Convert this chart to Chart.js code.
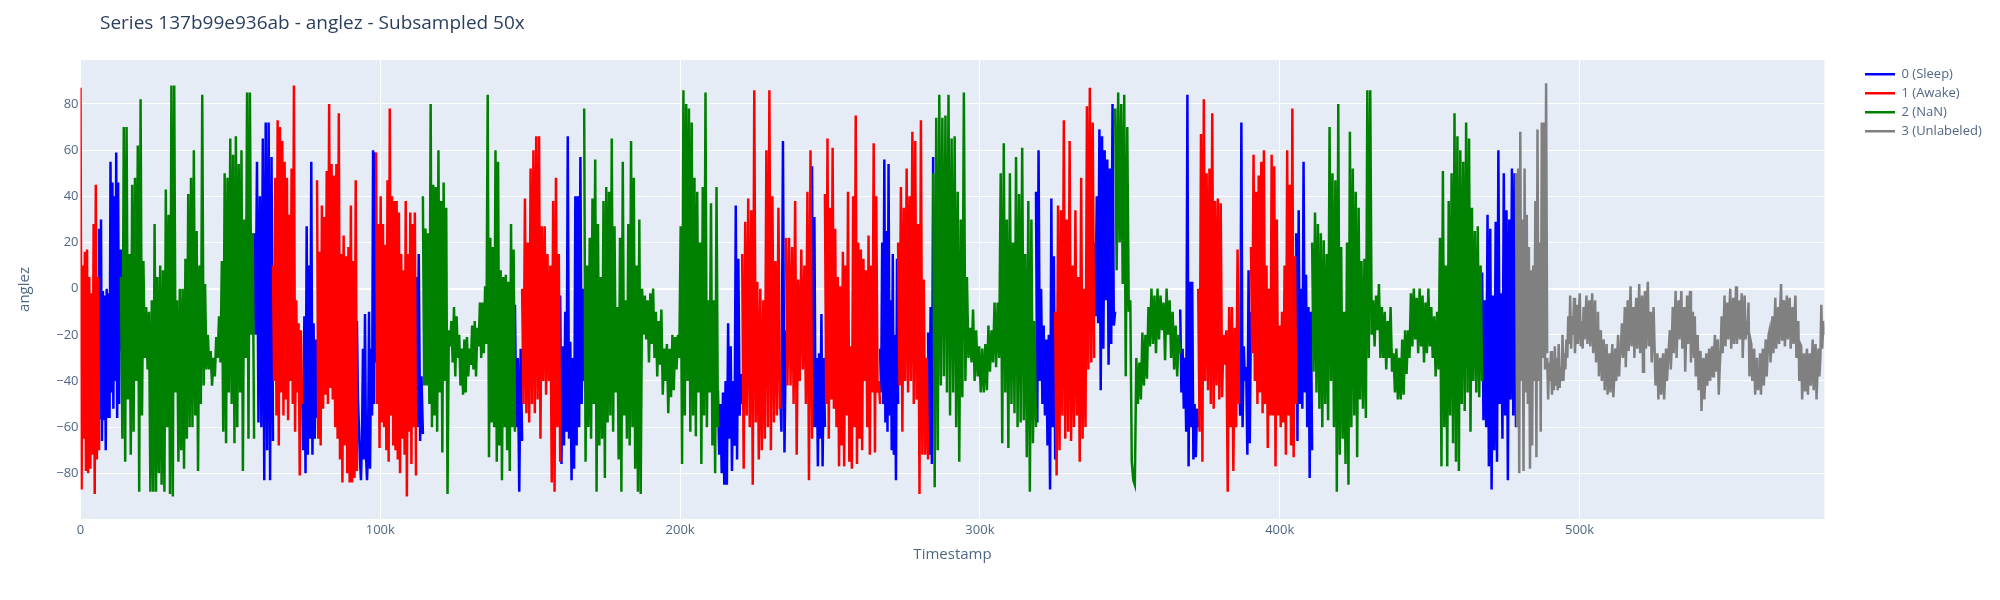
<!DOCTYPE html>
<html>
<head>
<meta charset="utf-8">
<style>
  html, body { margin: 0; padding: 0; background: #fff; }
  canvas { display: block; }
</style>
<script src="https://cdn.jsdelivr.net/npm/chart.js@4/dist/chart.umd.min.js"></script>
</head>
<body>
<canvas id="myChart" width="2000" height="600"></canvas>
<script>
// label names and colours
const labelNames = ['0 (Sleep)', '1 (Awake)', '2 (NaN)', '3 (Unlabeled)'];
const labelColors = ['#0000ff', '#ff0000', '#008000', '#808080'];

const xTicks = [0, 100000, 200000, 300000, 400000, 500000];
const yTicks = [-80, -60, -40, -20, 0, 20, 40, 60, 80];

// label of each run, and where it starts and ends (timestamp)
const segLabel = [1,0,2,0,1,0,1,0,1,0,2,0,1,0,2,0,1,0,1,0,1,0,1,0,2,0,1,0,2,0,1,0,1,0,2,0,3,3];
const segStart = [0,6200,13500,57900,64200,73900,78900,92200,98600,111900,114200,144900,147300,160000,168000,212600,220700,233300,235300,244000,248300,266700,272700,282700,284400,318700,325100,338100,345100,366800,372800,386400,390400,405500,410800,467500,478800,489200];
const segEnd = [6200,13500,57900,64200,73900,78900,92200,98600,111900,114200,144900,147300,160000,168000,212600,220700,233300,235300,244000,248300,266700,272700,282700,284400,318700,325100,338100,345100,366800,372800,386400,390400,405500,410800,467500,478800,489200,581600];

// anglez, run by run
const segValues = [
  [87,-87,10,-65,16,-79,17,-80,5,-78,-2,-72,28,-89,45,-74,5,-70],
  [26,-56,30,-66,-1,-57,-3,-70,0,-56,-2,-56,55,-45,46,-52,40,-40,59,-56,46,-50,17,-27],
  [5,-65,70,-75,70,-48,15,-72,45,-62,48,-40,62,-88,82,-55,12,-30,-8,-35,-10,-88,-5,-88,28,-88,5,-80,10,-85,8,-88,43,-60,32,-89,88,-90,88,-45,-5,-75,0,-70,0,-78,13,-65,41,-60,48,-60,60,-55,25,-79,10,-50,84,-42,2,-35,-20,-35,-27,-42,-30,-38,-21,-30,-12,-32,12,-62,50,-67,48,-45,65,-50,58,-67,66,-60,54,-45,60,-79,30,-30,85,-65,85,-20,24,-65],
  [24,-20,55,-58,40,-60,65,-83,72,-70,72,-83,57,-66],
  [10,-40,48,-55,73,-68,70,-45,64,-55,55,-48,48,-57,32,-40,52,-50,88,-62,-5,-45,-15,-81,-18,-50],
  [-40,-70,-12,-80,27,-72,10,-65,55,-72,-15,-65,-22,-56],
  [47,-65,16,-68,36,-52,31,-46,51,-50,80,-43,54,-48,49,-60,54,-65,76,-74,15,-84,23,-68,14,-80,18,-84,36,-84,12,-82,47,-79],
  [-14,-48,-60,-74,-83,-66,-26,-74,-11,-72,-83,-70,-10,-78,-26,-55,60,-50,59,-32],
  [59,-50,28,-69,40,-58,28,-60,19,-70,47,-75,78,-55,40,-68,38,-70,38,-74,33,-80,15,-65,8,-72,38,-90,15,-62,33,-76,28,-60,33,-81],
  [5,-60,15,-66,-38,-63],
  [40,-42,26,-42,24,-50,80,-60,45,-55,44,-62,60,-45,38,-71,46,-40,35,-89,-18,-25,-14,-32,-8,-38,-12,-30,-20,-42,-26,-46,-22,-45,-21,-38,-26,-33,-16,-35,-14,-38,-17,-25,-6,-30,-6,-28,1,-24,84,-73,22,-58,18,-60,60,-75,55,-68,8,-83,5,-60,6,-70,3,-79,28,-60,17,-62],
  [-7,-60,-30,-88,-26,-66],
  [0,-50,39,-54,20,-58,52,-50,60,-54,66,-48,66,-65,27,-40,27,-46,15,-40,10,-84,38,-88,48,-60,15,-75],
  [-3,-76,-25,-68,-10,-62,66,-65,-23,-83,-30,-78,40,-68,40,-60,57,-50,0,-40],
  [78,-75,10,-60,22,-65,39,-50,56,-88,28,-68,5,-65,38,-82,44,-58,42,-55,65,-62,27,-45,-8,-74,22,-88,55,-55,-5,-65,28,-68,64,-60,48,-78,10,-88,30,-89,0,-20,-3,-22,-5,-32,-2,-24,0,-30,-10,-38,-14,-33,-9,-46,-26,-40,-24,-54,-26,-47,-20,-44,-21,-35,-20,-30,27,-76,86,-55,80,-40,78,-62,72,-55,48,-64,42,-45,20,-76,44,-55,85,-60,-5,-45,37,-68,-5,-80,44,-60],
  [-44,-72,-50,-80,-45,-85,-40,-85,-15,-65,-25,-79,-40,-68,36,-74,13,-55,-37,-50],
  [15,-78,29,-55,39,-60,34,-85,86,-58,3,-74,0,-70,-5,-65,60,-60,86,-70,40,-58,12,-55,35,-52],
  [-43,-62,64,-71,-18],
  [22,-42,22,-42,18,-50,38,-72,4,-40,17,-35,10,-50,42,-83,60,-65],
  [53,-60,31,-60,-30,-77,-28,-65,-11,-77,-30,-60],
  [41,-50,65,-65,35,-48,61,-52,26,-60,5,-77,1,-68,16,-77,10,-55,42,-75,-25,-78,40,-60,75,-76,20,-65,17,-70,13,-40,8,-60,23,-72,10,-45,63,-71,40,-45,-40,-50],
  [-26,-45,20,-50,56,-58,25,-62,54,-55,-5,-70,15,-72,-20,-83,13,-50],
  [20,-42,44,-62,35,-40,52,-45,40,-40,68,-50,64,-48,28,-89,73,-72,4,-72,-30,-74],
  [-19,-72,-8,-76,57],
  [50,-86,74,-70,84,-42,74,-38,75,-45,84,-55,65,-45,66,-60,42,-75,30,-47,85,-40,5,-30,-17,-32,-9,-40,-18,-38,-25,-45,-26,-45,-24,-44,-16,-36,-18,-32,-6,-34,-6,-30,50,-67,63,-45,30,-69,50,-50,20,-54,57,-60,41,-58,61,-57,15,-73,38,-88,30,-67,-14,-60],
  [42,-58,60,-40,0,-50,-16,-55,-22,-68,-20,-87,39,-60,14,-74],
  [-10,-81,36,-70,34,-55,73,-65,30,-62,64,-66,10,-60,34,-55,5,-75,48,-65,0,-60,79,-35,87,-32,72,-30],
  [20,-12,40,-15,69,-44,66,-26,60,-5,56,-33,52,-24,80,-16,-10],
  [78,8,85,20,80,2,84,-38,70,-10,-5,-75,-83,-85,-30,-50,-32,-48,-19,-42,-20,-39,-8,-25,0,-24,-3,-28,0,-22,-3,-18,-6,-31,0,-20,-5,-30,-10,-35,-16,-38,-20,-28],
  [-9,-45,-26,-52,-30,-62,84,-77,3,-60,3,-74,-50,-73,-52,-60],
  [0,-62,67,-75,82,-40,50,-44,52,-50,76,-52,38,-42,39,-48,37,-47,-20,-33,-18,-88,-8,-60,-8,-79,-17,-60,17,-50],
  [-35,-55,72,-60,-25,-40,-34,-72,8,-67,-10],
  [18,-28,58,-40,42,-50,49,-45,55,-54,60,-50,10,-69,0,-55,58,-55,53,-77,30,-55,-16,-60,-10,-58,10,-72,60,-55,45,-68,78,-73,14,-50],
  [24,-66,34,-50,0,-52,55,-45,6,-60,-8,-82,-10,-70],
  [20,-36,33,-45,28,-52,24,-60,21,-50,15,-57,70,-40,50,-60,47,-88,80,-72,18,-65,-10,-76,20,-85,68,-60,52,-55,42,-73,35,-48,12,-52,13,-56,86,-30,86,-20,-5,-25,-3,-18,2,-30,-8,-30,-10,-35,-14,-30,-8,-36,-28,-45,-26,-48,-30,-48,-22,-46,-18,-37,-18,-30,-2,-25,0,-22,-4,-28,0,-25,-3,-32,-6,-28,0,-25,-8,-30,-12,-38,-10,-35,22,-77,51,-60,10,-77,38,-55,50,-67,76,-75,66,-79,60,-50,55,-53,72,-45,65,-62,35,-40,25,-45,27,-47,10,-40],
  [7,-57,-5,-60,32,-77,26,-87,-3,-70,29,-75,60,-50,-2,-65,50,-55,34,-83,30,-48,52,-55,50,-60],
  [50,-60,52,-80,68,-40,30,-79,52,-45,32,-50,18,-78,8,-68,10,-40,38,-73,69,-40,20,-62,72,-30,72,-35,89,-28],
  [-30,-48,-32,-40,-27,-46,-36,-44,-25,-42,-30,-44,-24,-43,-34,-40,-20,-40,-28,-35,-22,-30,
   -12,-24,-3,-26,-12,-20,-4,-28,-16,-7,-24,-10,-2,-25,-14,-26,-8,-22,-12,-3,-24,-14,-5,-25,-11,-2,-28,-18,
   -5,-32,-18,-10,-38,-24,-18,-40,-28,-22,-44,-32,-24,-46,-36,-28,-45,-34,-24,-47,-38,-26,-40,-30,-20,-38,-28,-24,
   -15,-30,-22,-8,-34,-18,-5,-27,-12,1,-25,-14,-8,-30,-12,-4,-26,-16,2,-28,-10,-3,-36,-14,-1,-26,-10,3,-25,-18,-10,-32,-20,-8,
   -25,-42,-32,-28,-48,-36,-30,-46,-34,-28,-48,-38,-26,-40,-32,-25,
   -18,-35,-24,-8,-28,-16,-1,-30,-14,-5,-22,-12,-1,-26,-18,-8,-36,-20,-3,-24,-10,-1,-32,-14,-10,-30,
   -12,-38,-24,-20,-44,-30,-27,-53,-36,-30,-48,-38,-28,-42,-34,-26,-40,-32,-25,-38,-30,-20,-36,-28,-22,-46,-34,-26,
   -12,-28,-18,-3,-25,-12,-6,-22,-10,0,-26,-16,-4,-24,-14,1,-24,-10,-5,-22,-12,-2,-30,-16,-3,-22,-14,-20,
   -6,-38,-22,-24,-40,-30,-26,-46,-36,-30,-44,-38,-28,-46,-34,-26,-42,-32,-22,-38,-28,-20,
   -18,-32,-24,-12,-28,-18,-4,-26,-14,-8,-24,-10,2,-22,-12,-5,-25,-14,-3,-22,-10,-4,-26,-16,-8,-24,-12,-3,-30,-18,
   -14,-40,-24,-25,-48,-34,-28,-44,-36,-26,-46,-32,-28,-42,-34,-22,-44,-30,-24,-48,-36,-26,-38,-30,
   -7,-26,-14,-20]
];

// one dataset per label, a null keeps runs of the same label apart
const datasets = labelNames.map((name, i) => {
    const points = [];
    segValues.forEach((values, s) => {
        if (segLabel[s] !== i) return;
        const step = (segEnd[s] - segStart[s]) / (values.length - 1);
        values.forEach((v, j) => points.push({ x: segStart[s] + j * step, y: v }));
        points.push({ x: segEnd[s], y: null });
    });
    return {
        label: name,
        data: points,
        borderColor: labelColors[i],
        backgroundColor: labelColors[i],
        borderWidth: 2.5,
        pointRadius: 0,
        tension: 0,
        spanGaps: false,
        order: labelNames.length - i
    };
});

const fontFamily = '"Open Sans", sans-serif';
const textColor = '#506784';

// plot background, and moves title and legend to where they sit in the picture
const placeBoxes = {
    id: 'placeBoxes',
    beforeDraw(chart) {
        const a = chart.chartArea;
        chart.ctx.fillStyle = '#e5ecf6';
        chart.ctx.fillRect(a.left, a.top, a.right - a.left, a.bottom - a.top);
    },
    afterLayout(chart) {
        chart.titleBlock.left = 100;
        chart.legend.left = 1859;
        chart.legend.right = 2000;
        chart.legend.top = 61.8;
        chart.legend.bottom = 160;
    }
};

new Chart(document.getElementById('myChart'), {
    type: 'line',
    data: { datasets: datasets },
    plugins: [placeBoxes],
    options: {
        responsive: false,
        animation: false,
        layout: { padding: { left: 0, top: 0, right: 175.5, bottom: 0 } },
        scales: {
            x: {
                type: 'linear',
                min: 0,
                max: 581700,
                afterFit: scale => { scale.height = 81; },
                afterBuildTicks: scale => { scale.ticks = xTicks.map(v => ({ value: v })); },
                grid: { color: '#ffffff', lineWidth: 1, drawTicks: false },
                border: { display: false },
                ticks: {
                    autoSkip: false,
                    maxRotation: 0,
                    padding: 3,
                    color: textColor,
                    font: { family: fontFamily, size: 13 },
                    callback: v => (v === 0 ? '0' : (v / 1000) + 'k')
                },
                title: {
                    display: true,
                    text: 'Timestamp',
                    color: textColor,
                    font: { family: fontFamily, size: 15 },
                    padding: { top: 0, bottom: 36 }
                }
            },
            y: {
                min: -99.8,
                max: 99.06,
                afterFit: scale => { scale.width = 80.5; },
                afterBuildTicks: scale => { scale.ticks = yTicks.map(v => ({ value: v })); },
                grid: {
                    color: '#ffffff',
                    lineWidth: ctx => (ctx.tick && ctx.tick.value === 0 ? 2 : 1),
                    drawTicks: false
                },
                border: { display: false },
                ticks: {
                    autoSkip: false,
                    padding: 2,
                    color: textColor,
                    font: { family: fontFamily, size: 13 },
                    callback: v => String(v).replace('-', '\u2212')
                },
                title: {
                    display: true,
                    text: 'anglez',
                    color: textColor,
                    font: { family: fontFamily, size: 15 },
                    padding: { top: 16, bottom: 0 }
                }
            }
        },
        plugins: {
            title: {
                display: true,
                text: 'Series 137b99e936ab - anglez - Subsampled 50x',
                align: 'start',
                color: '#2a3f5f',
                font: { family: fontFamily, size: 19, weight: 'normal' },
                padding: { top: 12.6, bottom: 24.6 }
            },
            legend: {
                position: 'chartArea',
                align: 'start',
                labels: {
                    boxWidth: 30,
                    boxHeight: 0,
                    padding: 6,
                    color: textColor,
                    font: { family: fontFamily, size: 13 },
                    sort: (a, b) => a.datasetIndex - b.datasetIndex
                }
            },
            tooltip: { enabled: false }
        }
    }
});
</script>
</body>
</html>
